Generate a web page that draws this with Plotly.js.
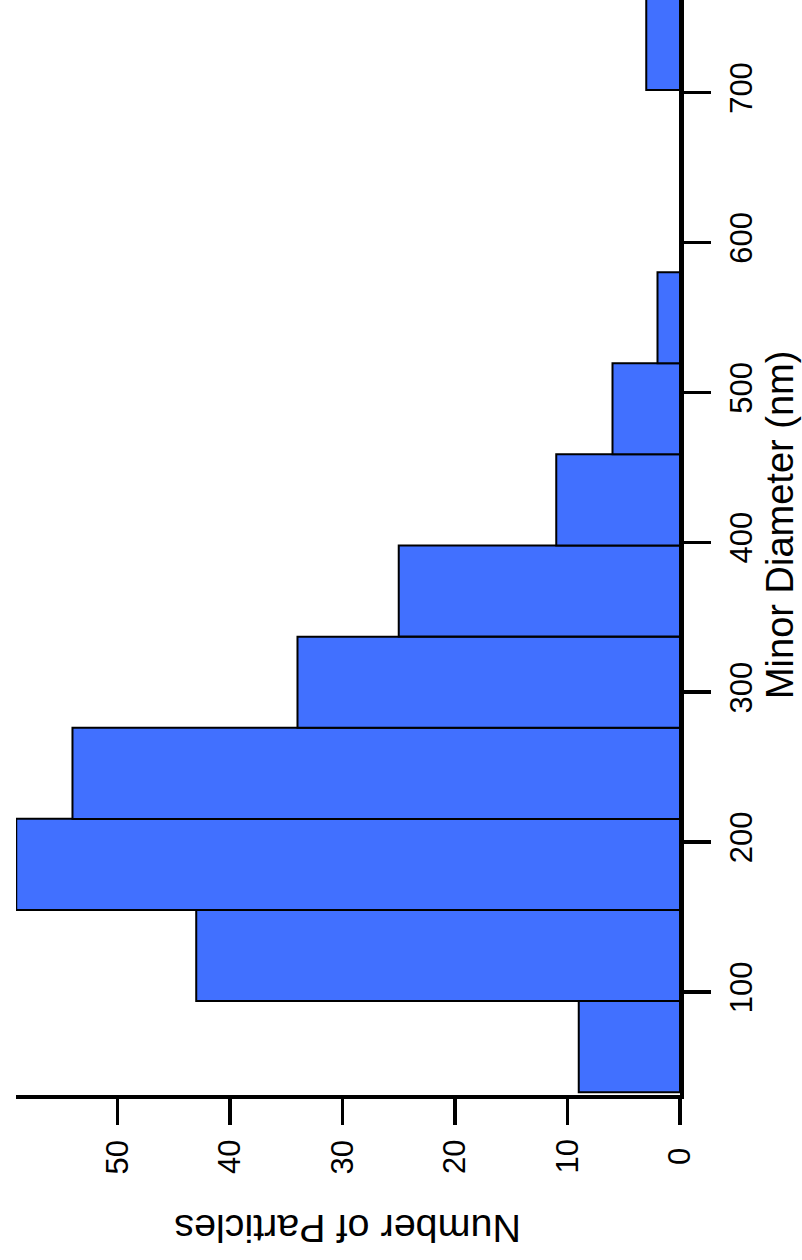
<!DOCTYPE html>
<html>
<head>
<meta charset="utf-8">
<script src="https://cdn.plot.ly/plotly-3.0.1.min.js"></script>
<style>
  html, body { margin: 0; padding: 0; background: #ffffff; }
  #chart { width: 802px; height: 1260px; }
</style>
</head>
<body>
<div id="chart"></div>
<script>
// Histogram of particle minor diameters, drawn sideways:
// diameter runs up the right-hand axis, particle counts grow to the left.
const binStart = [33.2, 94.0, 154.8, 215.5, 276.3, 337.1, 397.9, 458.7, 519.4, 580.2, 641.0, 701.8]; // nm
const binWidth = 60.78; // nm
const counts = [9, 43, 59, 54, 34, 25, 11, 6, 2, 0, 0, 3];

const diameterTicks = [100, 200, 300, 400, 500, 600, 700];
const countTicks = [0, 10, 20, 30, 40, 50];

const fontFamily = '"Liberation Sans", Arial, Helvetica, sans-serif';
const tickFont = { size: 31, family: fontFamily, color: '#000000' };

const trace = {
  type: 'bar',
  orientation: 'h',
  y: binStart,
  x: counts,
  width: binWidth,
  offset: 0,
  marker: {
    color: '#4170FF',
    line: { color: '#000000', width: 2 }
  },
  hoverinfo: 'skip'
};

// Count tick labels are written vertically and centred under each tick.
const countLabels = countTicks.map(v => ({
  text: String(v),
  xref: 'x', yref: 'paper',
  x: v, y: -0.0566,
  xanchor: 'center', yanchor: 'middle',
  textangle: -90,
  showarrow: false,
  font: tickFont
}));

const layout = {
  width: 802,
  height: 1260,
  margin: { l: 16, r: 122, t: 0, b: 165, pad: 0 },
  paper_bgcolor: '#ffffff',
  plot_bgcolor: '#ffffff',
  showlegend: false,
  bargap: 0,
  font: { family: fontFamily, color: '#000000' },
  xaxis: {
    range: [59.02, 0],
    tickmode: 'array',
    tickvals: countTicks,
    showticklabels: false,
    ticks: 'outside',
    ticklen: 26,
    tickwidth: 3.5,
    tickcolor: '#000000',
    showline: true,
    linewidth: 4,
    linecolor: '#000000',
    showgrid: false,
    zeroline: false
  },
  yaxis: {
    side: 'right',
    range: [31.3, 761.8],
    tickmode: 'array',
    tickvals: diameterTicks,
    ticktext: diameterTicks.map(String),
    ticks: 'outside',
    ticklen: 27,
    tickwidth: 3.5,
    tickcolor: '#000000',
    tickangle: -90,
    ticklabelstandoff: 4,
    tickfont: tickFont,
    showline: true,
    linewidth: 4,
    linecolor: '#000000',
    showgrid: false,
    zeroline: false
  },
  annotations: countLabels.concat([
    {
      text: 'Number of Particles',
      xref: 'paper', yref: 'paper',
      x: 0.5, y: -0.1225,
      xanchor: 'center', yanchor: 'middle',
      textangle: 180,
      showarrow: false,
      font: { size: 39.5, family: fontFamily, color: '#000000' }
    },
    {
      text: 'Minor Diameter (nm)',
      xref: 'paper', yref: 'paper',
      x: 1.1506, y: 0.5205,
      xanchor: 'center', yanchor: 'middle',
      textangle: -90,
      showarrow: false,
      font: { size: 38, family: fontFamily, color: '#000000' }
    }
  ])
};

Plotly.newPlot('chart', [trace], layout, { staticPlot: true, displayModeBar: false });
</script>
</body>
</html>
